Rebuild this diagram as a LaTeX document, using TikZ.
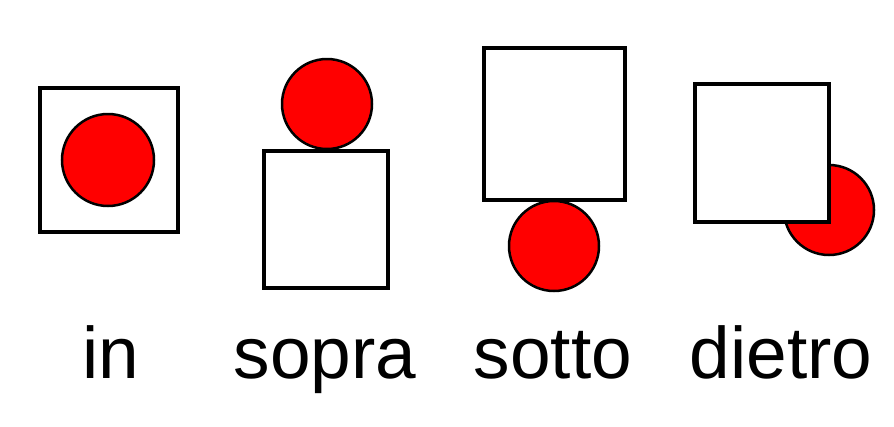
\documentclass[tikz,border=0pt]{standalone}
\usepackage{fontspec}
\setmainfont{Liberation Sans}
\begin{document}
\begin{tikzpicture}[x=1pt,y=-1pt,
  box/.style={draw=black,line width=3.5pt,fill=white},
  ball/.style={draw=black,line width=2.5pt,fill=red,circle},
  lbl/.style={font=\fontsize{73}{80}\selectfont,inner sep=0pt,anchor=base}]
\useasboundingbox (0,0) rectangle (894,426);
% in
\draw[box] (40,88) rectangle (178,232);
\node[ball,minimum size=92pt] (b1) at (108,160) {};
\node[lbl] (t1) at (111,378) {in};
% sopra
\draw[box] (264,151) rectangle (388,288);
\node[ball,minimum size=90pt] (b2) at (327,104) {};
\node[lbl] (t2) at (325,378) {sopra};
% sotto
\node[ball,minimum size=90pt] (b3) at (554,246) {};
\draw[box] (484,48) rectangle (625,200);
\node[lbl] (t3) at (553,378) {sotto};
% dietro
\node[ball,minimum size=90pt] (b4) at (829,210) {};
\draw[box] (695,84) rectangle (829,222);
\node[lbl] (t4) at (781,378) {dietro};
\end{tikzpicture}
\end{document}
